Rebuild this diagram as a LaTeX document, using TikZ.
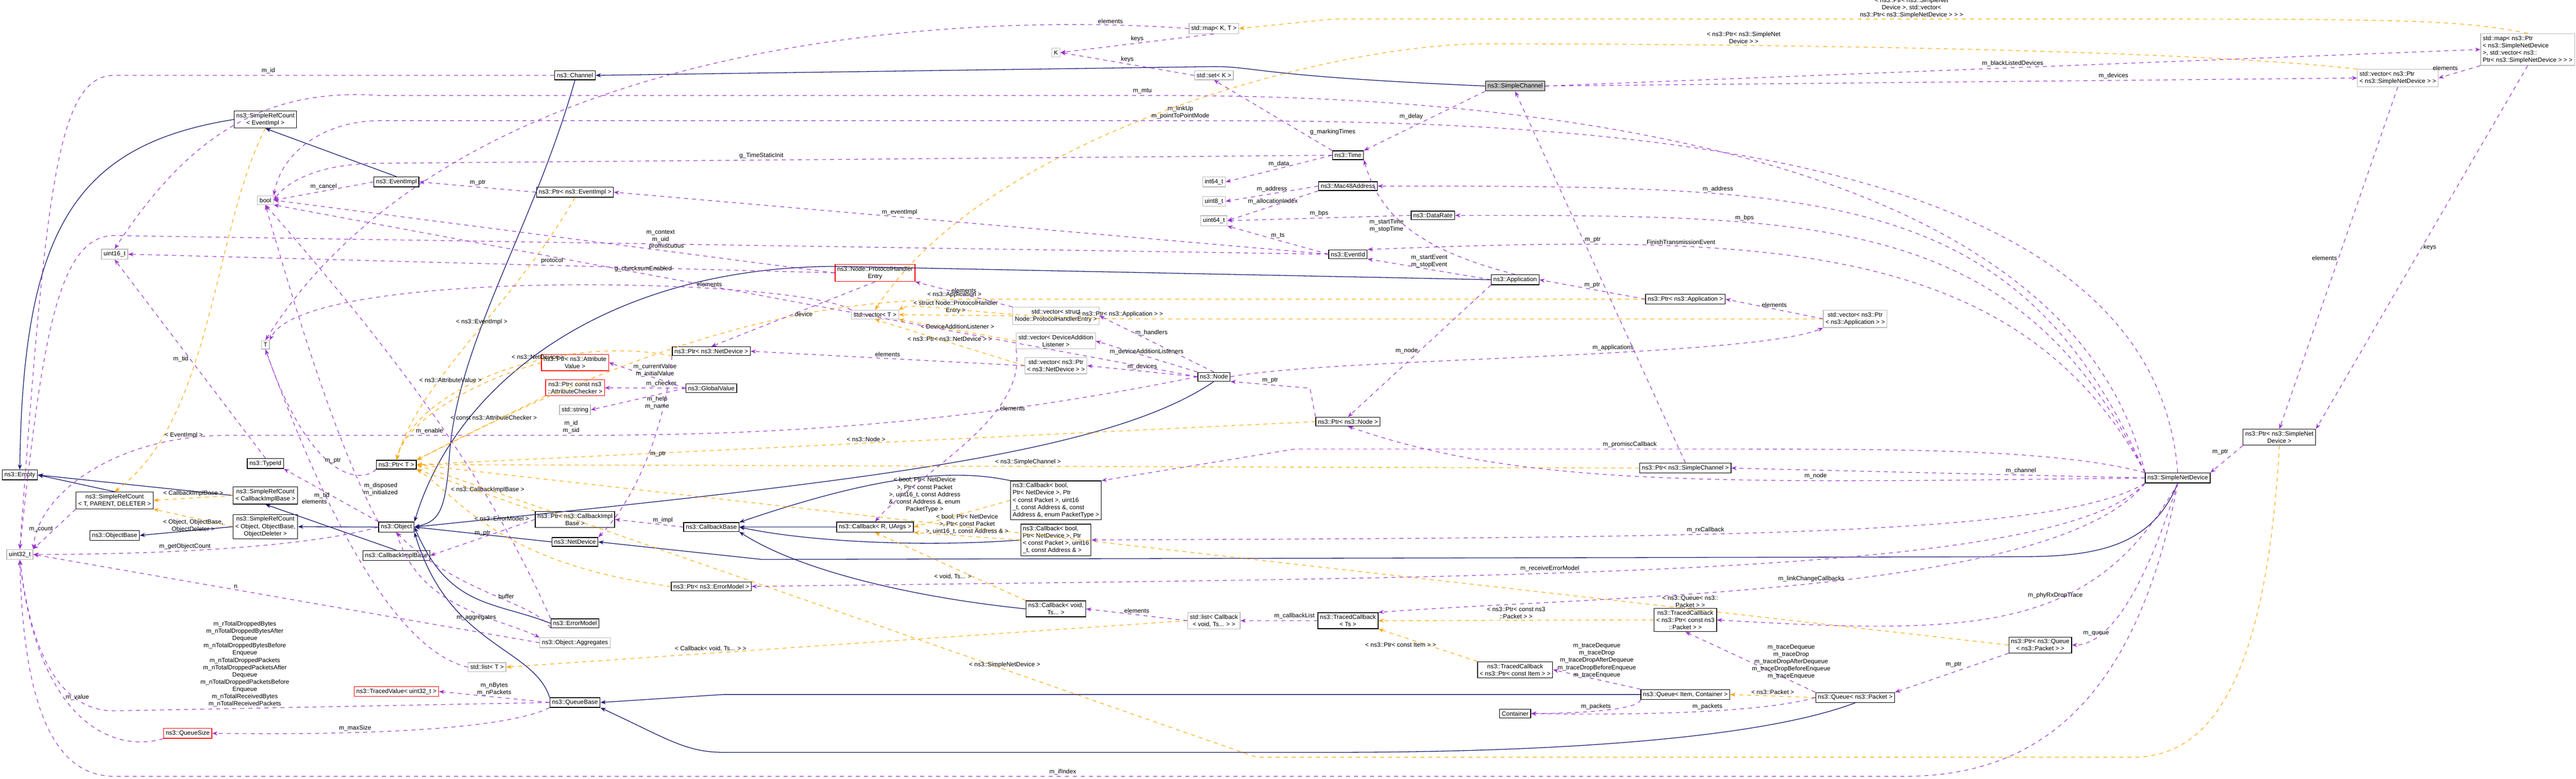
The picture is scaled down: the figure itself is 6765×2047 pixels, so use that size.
\documentclass[tikz,border=0pt]{standalone}
\usepackage{fontspec}
\setmainfont{Liberation Sans}
\usetikzlibrary{arrows.meta}
\definecolor{inhc}{HTML}{191970}
\definecolor{usec}{HTML}{9A32CD}
\definecolor{tplc}{HTML}{FFA500}
\tikzset{
 box/.style={draw=black,fill=white,font=\fontsize{4.6}{5.4}\selectfont,inner sep=1.6pt,align=center,line width=0.5pt},
 gbox/.style={box,draw=gray!55},
 rbox/.style={box,draw=red},
 inh/.style={draw=inhc,line width=0.5pt,-{Stealth[length=4pt,width=3pt]}},
 use/.style={draw=usec,dashed,line width=0.45pt,-{Stealth[length=4pt,width=3pt]}},
 tpl/.style={draw=tplc,dashed,line width=0.45pt,-{Stealth[length=4pt,width=3pt]}},
 lbl/.style={font=\fontsize{4.6}{5.4}\selectfont,align=center,inner sep=1pt}
}
\begin{document}
\begin{tikzpicture}[x=0.01cm,y=-0.01cm]
\useasboundingbox (0,0) rectangle (6765,2047);
% nodes
\node[box] (ch) at (1510,198) {ns3::Channel};
\node[box] (srcE) at (697,314) {ns3::SimpleRefCount\\< EventImpl >};
\node[box] (evi) at (1041,478) {ns3::EventImpl};
\node[gbox] (bool) at (697,526) {bool};
\node[box] (pevi) at (1510,505) {ns3::Ptr< ns3::EventImpl >};
\node[gbox] (u16) at (301,668) {uint16\_t};
\node[gbox] (T) at (697,906) {T};
\node[rbox] (pav) at (1510,953) {ns3::Ptr< ns3::Attribute\\Value >};
\node[rbox] (pcac) at (1510,1019) {ns3::Ptr< const ns3\\::AttributeChecker >};
\node[gbox] (str) at (1510,1077) {std::string};
\node[box] (tid) at (697,1218) {ns3::TypeId};
\node[box] (pT) at (1041,1221) {ns3::Ptr< T >};
\node[box] (empty) at (52,1248) {ns3::Empty};
\node[box] (srcT) at (301,1315) {ns3::SimpleRefCount\\< T, PARENT, DELETER >};
\node[box] (srcCB) at (697,1302) {ns3::SimpleRefCount\\< CallbackImplBase >};
\node[box] (srcO) at (697,1384) {ns3::SimpleRefCount\\< Object, ObjectBase,\\ObjectDeleter >};
\node[box] (obase) at (301,1407) {ns3::ObjectBase};
\node[box] (obj) at (1041,1385) {ns3::Object};
\node[box] (cib) at (1041,1460) {ns3::CallbackImplBase};
\node[box] (pcib) at (1510,1365) {ns3::Ptr< ns3::CallbackImpl\\Base >};
\node[box] (nd) at (1510,1424) {ns3::NetDevice};
\node[gbox] (u32) at (52,1457) {uint32\_t};
\node[box] (em) at (1510,1638) {ns3::ErrorModel};
\node[gbox] (agg) at (1510,1689) {ns3::Object::Aggregates};
\node[gbox] (listT) at (1279,1753) {std::list< T >};
\node[rbox] (tv) at (1041,1817) {ns3::TracedValue< uint32\_t >};
\node[box] (qb) at (1510,1846) {ns3::QueueBase};
\node[rbox] (qs) at (493,1927) {ns3::QueueSize};
\node[gbox] (mapKT) at (3188,75) {std::map< K, T >};
\node[gbox] (K) at (2773,138) {K};
\node[gbox] (setK) at (3188,198) {std::set< K >};
\node[gbox] (i64) at (3188,478) {int64\_t};
\node[gbox] (u8) at (3188,529) {uint8\_t};
\node[gbox] (u64) at (3188,580) {uint64\_t};
\node[rbox] (phe) at (2298,717) {ns3::Node::ProtocolHandler\\Entry};
\node[gbox] (vecT) at (2298,827) {std::vector< T >};
\node[gbox] (vecphe) at (2773,830) {std::vector< struct\\Node::ProtocolHandlerEntry >};
\node[gbox] (vecdal) at (2773,896) {std::vector< DeviceAddition\\Listener >};
\node[box] (pnd) at (1868,923) {ns3::Ptr< ns3::NetDevice >};
\node[gbox] (vecpnd) at (2773,961) {std::vector< ns3::Ptr\\< ns3::NetDevice > >};
\node[box] (node) at (3188,990) {ns3::Node};
\node[box] (gv) at (1868,1020) {ns3::GlobalValue};
\node[box,align=left] (cbP) at (2773,1315) {ns3::Callback< bool,\\Ptr< NetDevice >, Ptr\\< const Packet >, uint16\\\_t, const Address \&, const\\Address \&, enum PacketType >};
\node[box] (cbB) at (1868,1385) {ns3::CallbackBase};
\node[box] (cbR) at (2298,1385) {ns3::Callback< R, UArgs >};
\node[box,align=left] (cbA) at (2773,1419) {ns3::Callback< bool,\\Ptr< NetDevice >, Ptr\\< const Packet >, uint16\\\_t, const Address \& >};
\node[box] (pem) at (1868,1541) {ns3::Ptr< ns3::ErrorModel >};
\node[box] (cbV) at (2773,1600) {ns3::Callback< void,\\Ts... >};
\node[gbox] (listcb) at (3188,1631) {std::list< Callback\\< void, Ts... > >};
\node[box,fill=gray!45] (sc) at (3979,226) {ns3::SimpleChannel};
\node[box] (time) at (3540,408) {ns3::Time};
\node[box] (mac) at (3540,489) {ns3::Mac48Address};
\node[box] (dr) at (3763,566) {ns3::DataRate};
\node[box] (eid) at (3540,668) {ns3::EventId};
\node[box] (app) at (3979,735) {ns3::Application};
\node[box] (papp) at (4426,786) {ns3::Ptr< ns3::Application >};
\node[gbox] (vecapp) at (4872,838) {std::vector< ns3::Ptr\\< ns3::Application > >};
\node[box] (pnode) at (3540,1108) {ns3::Ptr< ns3::Node >};
\node[box] (psc) at (4426,1230) {ns3::Ptr< ns3::SimpleChannel >};
\node[box] (tcTs) at (3540,1631) {ns3::TracedCallback\\< Ts >};
\node[box] (tcPkt) at (4426,1629) {ns3::TracedCallback\\< ns3::Ptr< const ns3\\::Packet > >};
\node[box] (tcItem) at (3979,1760) {ns3::TracedCallback\\< ns3::Ptr< const Item > >};
\node[box] (qic) at (4426,1825) {ns3::Queue< Item, Container >};
\node[box] (cont) at (3979,1875) {Container};
\node[box] (qp) at (4872,1833) {ns3::Queue< ns3::Packet >};
\node[gbox,align=left] (mapsnd) at (6638,130) {std::map< ns3::Ptr\\< ns3::SimpleNetDevice\\ >, std::vector< ns3::\\Ptr< ns3::SimpleNetDevice > > >};
\node[gbox,align=left] (vecsnd) at (6297,205) {std::vector< ns3::Ptr\\< ns3::SimpleNetDevice > >};
\node[box] (psnd) at (5986,1149) {ns3::Ptr< ns3::SimpleNet\\Device >};
\node[box] (snd) at (5719,1256) {ns3::SimpleNetDevice};
\node[box] (pqp) at (5358,1695) {ns3::Ptr< ns3::Queue\\< ns3::Packet > >};
% inheritance
\draw[inh] (sc.west) .. controls (3300,200) and (3300,175) .. (3188,175) -- (ch.east);
\draw[inh] (ch.south) .. controls (1400,600) and (1200,900) .. (1180,1200) .. controls (1170,1350) and (1150,1370) .. (obj.east);
\draw[inh] (srcE.west) .. controls (200,380) and (60,600) .. (empty.north);
\draw[inh] (evi.north) -- (srcE.south);
\draw[inh] (srcT.north) -- (empty.east);
\draw[inh] (srcCB.west) -- (empty.east);
\draw[inh] (srcO.west) -- (obase.east);
\draw[inh] (obj.west) -- (srcO.east);
\draw[inh] (cib.north) -- (srcCB.south);
\draw[inh] (nd.west) -- (obj.east);
\draw[inh] (em.west) .. controls (1300,1580) and (1180,1600) .. (obj.east);
\draw[inh] (qb.north west) .. controls (1400,1700) and (1180,1700) .. (obj.south east);
\draw[inh] (app.west) -- (2200,700) .. controls (1600,700) and (1200,1000) .. (obj.north east);
\draw[inh] (node.south) .. controls (2900,1200) and (2200,1270) .. (obj.east);
\draw[inh] (snd.south) .. controls (5650,1440) and (5500,1463) .. (5300,1463) -- (2000,1470) -- (nd.east);
\draw[inh] (qic.west) -- (1900,1825) -- (qb.east);
\draw[inh] (qp.south) .. controls (4600,1950) and (4000,1977) .. (3500,1977) -- (1900,1977) .. controls (1800,1977) and (1750,1940) .. (qb.south east);
\draw[inh] (cbR.west) -- (cbB.east);
\draw[inh] (cbP.north west) .. controls (2500,1230) and (2300,1250) .. (cbB.north east);
\draw[inh] (cbA.west) .. controls (2400,1440) and (2100,1420) .. (cbB.east);
\draw[inh] (cbV.west) .. controls (2400,1570) and (2100,1500) .. (cbB.south east);
% template instantiation
\draw[tpl] (srcE.south) .. controls (560,600) and (560,1100) .. node[lbl,pos=0.8,right]{< EventImpl >} (srcT.north);
\draw[tpl] (srcCB.west) -- node[lbl,above]{< CallbackImplBase >} (srcT.east);
\draw[tpl] (srcO.west) -- node[lbl,below]{< Object, ObjectBase,\\ObjectDeleter >} (srcT.south east);
\draw[tpl] (pevi.south) .. controls (1350,800) and (1100,1000) .. node[lbl,pos=0.45,above]{< ns3::EventImpl >} (pT.north);
\draw[tpl] (pnd.south west) .. controls (1500,880) and (1100,1000) .. node[lbl,pos=0.4,above]{< ns3::NetDevice >} (pT.north);
\draw[tpl] (pav.west) .. controls (1250,1000) and (1070,1100) .. node[lbl,pos=0.3,above left]{< ns3::AttributeValue >} (pT.north);
\draw[tpl] (pcac.south west) -- node[lbl,pos=0.4,above]{< const ns3::AttributeChecker >} (pT.north east);
\draw[tpl] (pcib.north west) -- node[lbl,pos=0.4,above]{< ns3::CallbackImplBase >} (pT.south east);
\draw[tpl] (pem.west) .. controls (1300,1480) and (1200,1300) .. node[lbl,pos=0.6,below right]{< ns3::ErrorModel >} (pT.south east);
\draw[tpl] (pnode.west) -- node[lbl,pos=0.5,above]{< ns3::Node >} (pT.east);
\draw[tpl] (psc.west) -- node[lbl,pos=0.5,above]{< ns3::SimpleChannel >} (pT.east);
\draw[tpl] (papp.west) -- (2600,786) .. controls (2300,786) and (1900,790) .. node[lbl,pos=0.1,above]{< ns3::Application >} (pT.north east);
\draw[tpl] (pqp.west) -- node[lbl,pos=0.2,above]{< ns3::Queue< ns3::\\Packet > >} (pT.east);
\draw[tpl] (psnd.south) .. controls (5950,1800) and (5800,1990) .. (5600,1990) -- (3300,1990) -- node[lbl,pos=0.3,above]{< ns3::SimpleNetDevice >} (pT.east);
\draw[tpl] (listcb.west) -- node[lbl,pos=0.7,above]{< Callback< void, Ts... > >} (listT.east);
\draw[tpl] (vecphe.west) -- node[lbl,above]{< struct Node::ProtocolHandler\\Entry >} (vecT.east);
\draw[tpl] (vecdal.west) -- node[lbl,pos=0.5,above]{< DeviceAdditionListener >} (vecT.south east);
\draw[tpl] (vecpnd.west) -- node[lbl,pos=0.5,above]{< ns3::Ptr< ns3::NetDevice > >} (vecT.south);
\draw[tpl] (vecapp.west) -- (3000,838) .. controls (2600,838) and (2400,790) .. node[lbl,pos=0.05,above]{< ns3::Ptr< ns3::Application > >} (vecT.north east);
\draw[tpl] (vecsnd.north west) .. controls (5600,115) and (4000,115) .. node[lbl,pos=0.6,above]{< ns3::Ptr< ns3::SimpleNet\\Device > >} (3900,115) .. controls (3500,115) and (2600,350) .. (vecT.north);
\draw[tpl] (mapsnd.north) .. controls (6450,50) and (6300,50) .. (5400,50) -- node[lbl,pos=0.2,above,inner sep=0.5pt]{< ns3::Ptr< ns3::SimpleNet\\Device >, std::vector<\\ns3::Ptr< ns3::SimpleNetDevice > > >} (3500,50) -- (mapKT.east);
\draw[tpl] (cbP.west) -- node[lbl,above left]{< bool, Ptr< NetDevice\\>, Ptr< const Packet\\>, uint16\_t, const Address\\\&, const Address \&, enum\\PacketType >} (cbR.east);
\draw[tpl] (cbA.west) -- node[lbl,above]{< bool, Ptr< NetDevice\\>, Ptr< const Packet\\>, uint16\_t, const Address \& >} (cbR.south east);
\draw[tpl] (cbV.north west) -- node[lbl,pos=0.35,left]{< void, Ts... >} (cbR.south);
\draw[tpl] (qp.west) -- node[lbl,above]{< ns3::Packet >} (qic.east);
\draw[tpl] (tcPkt.west) -- node[lbl,above]{< ns3::Ptr< const ns3\\::Packet > >} (tcTs.east);
\draw[tpl] (tcItem.north west) -- node[lbl,pos=0.4,above left]{< ns3::Ptr< const Item > >} (tcTs.south east);
% usage
\draw[use] (ch.west) -- node[lbl,pos=0.65,above]{m\_id} (300,198) .. controls (150,198) and (120,500) .. (u32.north);
\draw[use] (snd.north west) .. controls (5400,251) and (3500,251) .. (3000,251) -- node[lbl,pos=0,above]{m\_mtu} (1000,251) .. controls (700,230) and (500,350) .. (u16.north);
\draw[use] (snd.north) .. controls (5650,330) and (4000,317) .. (3100,317) -- node[lbl,pos=0,above]{m\_linkUp\\m\_pointToPointMode} (1000,317) .. controls (850,317) and (740,400) .. (bool.north east);
\draw[use] (time.west) -- node[lbl,pos=0.6,above]{g\_TimeStaticInit} (1000,429) .. controls (850,429) and (760,470) .. (bool.east);
\draw[use] (evi.west) -- node[lbl,above]{m\_cancel} (bool.east);
\draw[use] (pevi.west) -- node[lbl,above]{m\_ptr} (evi.east);
\draw[use] (phe.west) -- node[lbl,pos=0.3,above]{promiscuous} (bool.east);
\draw[use] (eid.west) -- node[lbl,pos=0.55,above]{m\_context\\m\_uid} (300,619) .. controls (150,619) and (110,900) .. (u32.north);
\draw[use] (phe.west) -- node[lbl,pos=0.4,above]{protocol} (u16.east);
\draw[use] (mapKT.west) .. controls (2500,30) and (1200,100) .. node[lbl,pos=0.1,above]{elements} (T.north);
\draw[use] (vecT.north west) .. controls (2100,730) and (800,700) .. node[lbl,pos=0.3,above]{elements} (T.north east);
\draw[use] (tid.north) -- node[lbl,left]{m\_tid} (u16.south);
\draw[use] (gv.west) -- node[lbl,pos=0.7,right]{m\_currentValue\\m\_initialValue} (pav.east);
\draw[use] (gv.west) -- node[lbl,pos=0.3,above]{m\_checker} (pcac.east);
\draw[use] (gv.west) -- node[lbl,pos=0.3,below]{m\_help\\m\_name} (str.east);
\draw[use] (node.west) .. controls (2500,1120) and (2000,1144) .. (1500,1144) -- node[lbl,pos=0,above]{m\_id\\m\_sid} (600,1144) .. controls (300,1144) and (100,1300) .. (u32.north east);
\draw[use] (obj.north west) .. controls (900,1200) and (800,900) .. node[lbl,pos=0.15,right]{m\_disposed\\m\_initialized} (bool.south);
\draw[use] (pT.south west) .. controls (950,1270) and (820,1270) .. node[lbl,pos=0.5,above]{m\_ptr} (T.south);
\draw[use] (em.north west) .. controls (1300,1300) and (1100,1000) .. node[lbl,pos=0.5,left]{m\_enable} (bool.south);
\draw[use] (obj.north west) -- node[lbl,pos=0.5,left]{m\_tid} (tid.south east);
\draw[use] (listT.west) .. controls (1000,1700) and (800,1200) .. node[lbl,pos=0.6,left]{elements} (T.south);
\draw[use] (srcT.south west) -- node[lbl,left]{m\_count} (u32.north east);
\draw[use] (pcib.west) -- node[lbl,above]{m\_ptr} (cib.east);
\draw[use] (obj.west) .. controls (800,1440) and (400,1457) .. node[lbl,pos=0.6,above]{m\_getObjectCount} (u32.east);
\draw[use] (agg.west) -- node[lbl,pos=0.6,above]{n} (u32.east);
\draw[use] (obj.south) .. controls (1100,1600) and (1300,1620) .. node[lbl,pos=0.6,below]{m\_aggregates} (agg.north west);
\draw[use] (em.south west) .. controls (1400,1580) and (1200,1560) .. node[lbl,pos=0.4,above]{buffer} (obj.south);
\draw[use] (qb.west) -- node[lbl,above]{m\_nBytes\\m\_nPackets} (tv.east);
\draw[use] (qb.west) -- node[lbl,pos=0.7,above]{m\_rTotalDroppedBytes\\m\_nTotalDroppedBytesAfter\\Dequeue\\m\_nTotalDroppedBytesBefore\\Enqueue\\m\_nTotalDroppedPackets\\m\_nTotalDroppedPacketsAfter\\Dequeue\\m\_nTotalDroppedPacketsBefore\\Enqueue\\m\_nTotalReceivedBytes\\m\_nTotalReceivedPackets} (300,1868) .. controls (150,1868) and (80,1700) .. (u32.south);
\draw[use] (qb.south west) .. controls (1300,1930) and (800,1930) .. node[lbl,pos=0.6,above]{m\_maxSize} (qs.east);
\draw[use] (qs.south west) .. controls (300,1980) and (100,1900) .. node[lbl,pos=0.6,right]{m\_value} (u32.south);
\draw[use] (snd.south) .. controls (5600,1900) and (5300,2040) .. (5000,2040) -- node[lbl,pos=0.47,above]{m\_ifIndex} (300,2040) .. controls (120,2040) and (60,1800) .. (u32.south);
\draw[use] (mapKT.south) -- node[lbl,above]{keys} (K.east);
\draw[use] (setK.west) -- node[lbl,above]{keys} (K.east);
\draw[use] (time.north west) -- node[lbl,pos=0.2,above right]{g\_markingTimes} (setK.south);
\draw[use] (sc.south west) -- node[lbl,above left]{m\_delay} (time.north east);
\draw[use] (sc.east) -- node[lbl,above]{m\_blackListedDevices} (mapsnd.west);
\draw[use] (sc.east) -- node[lbl,pos=0.7,above]{m\_devices} (vecsnd.west);
\draw[use] (psc.north) -- node[lbl,pos=0.6,right]{m\_ptr} (sc.south);
\draw[use] (app.north) .. controls (3700,650) and (3620,550) .. node[lbl,pos=0.5,left]{m\_startTime\\m\_stopTime} (time.south east);
\draw[use] (app.west) -- node[lbl,above]{m\_startEvent\\m\_stopEvent} (eid.south east);
\draw[use] (app.south west) -- node[lbl,pos=0.5,left]{m\_node} (pnode.north);
\draw[use] (papp.west) -- node[lbl,above]{m\_ptr} (app.east);
\draw[use] (vecapp.west) -- node[lbl,above]{elements} (papp.east);
\draw[use] (node.east) .. controls (3500,940) and (4600,940) .. node[lbl,pos=0.6,above]{m\_applications} (vecapp.south west);
\draw[use] (node.north) -- node[lbl,pos=0.7,right]{m\_handlers} (vecphe.east);
\draw[use] (node.north west) -- node[lbl,pos=0.5,above]{m\_deviceAdditionListeners} (vecdal.east);
\draw[use] (node.west) -- node[lbl,above]{m\_devices} (vecpnd.east);
\draw[use] (node.west) -- node[lbl,pos=0.6,above]{g\_checksumEnabled} (bool.south east);
\draw[use] (vecphe.north west) -- node[lbl,pos=0.5,above]{elements} (phe.south east);
\draw[use] (vecpnd.west) -- node[lbl,pos=0.5,above]{elements} (pnd.east);
\draw[use] (phe.south) -- node[lbl,pos=0.5,right]{device} (pnd.north);
\draw[use] (vecdal.south west) .. controls (2700,1100) and (2400,1250) .. node[lbl,pos=0.3,right]{elements} (cbR.north);
\draw[use] (pnd.south west) .. controls (1750,1100) and (1680,1300) .. node[lbl,pos=0.5,right]{m\_ptr} (nd.north east);
\draw[use] (pnode.north west) -- (3440,1020) -- node[lbl,pos=0.5,above]{m\_ptr} (node.south east);
\draw[use] (snd.west) .. controls (4500,1270) and (4000,1280) .. node[lbl,pos=0.3,above]{m\_node} (pnode.south);
\draw[use] (snd.west) -- node[lbl,pos=0.3,above]{m\_channel} (psc.east);
\draw[use] (snd.north west) .. controls (5400,1180) and (5000,1180) .. (4500,1180) -- node[lbl,pos=0.2,above]{m\_promiscCallback} (3400,1180) -- (cbP.north east);
\draw[use] (snd.south west) .. controls (5400,1410) and (4500,1412) .. node[lbl,pos=0.6,above]{m\_rxCallback} (cbA.east);
\draw[use] (snd.south west) .. controls (5400,1520) and (4000,1515) .. node[lbl,pos=0.6,above]{m\_receiveErrorModel} (pem.east);
\draw[use] (snd.south west) .. controls (5400,1565) and (4200,1565) .. node[lbl,pos=0.5,above]{m\_linkChangeCallbacks} (tcTs.north east);
\draw[use] (snd.south) .. controls (5500,1660) and (5200,1670) .. node[lbl,pos=0.4,above]{m\_phyRxDropTrace} (tcPkt.east);
\draw[use] (snd.south) .. controls (5600,1650) and (5500,1695) .. node[lbl,pos=0.7,above]{m\_queue} (pqp.east);
\draw[use] (snd.north west) .. controls (5300,489) and (4800,489) .. node[lbl,pos=0.7,above]{m\_address} (mac.east);
\draw[use] (snd.north west) .. controls (5300,566) and (4800,566) .. node[lbl,pos=0.7,above]{m\_bps} (dr.east);
\draw[use] (snd.north west) .. controls (5300,617) and (4600,617) .. node[lbl,pos=0.7,above]{FinishTransmissionEvent} (eid.north east);
\draw[use] (psnd.south west) -- node[lbl,pos=0.4,above left]{m\_ptr} (snd.north east);
\draw[use] (vecsnd.south) -- node[lbl,pos=0.5,left]{elements} (psnd.north);
\draw[use] (mapsnd.south) -- node[lbl,pos=0.5,right]{keys} (psnd.north east);
\draw[use] (mapsnd.south west) -- node[lbl,pos=0.5,above left]{elements} (vecsnd.east);
\draw[use] (pqp.south west) -- node[lbl,pos=0.4,above left]{m\_ptr} (qp.north east);
\draw[use] (qp.north west) -- node[lbl,pos=0.5,right]{m\_traceDequeue\\m\_traceDrop\\m\_traceDropAfterDequeue\\m\_traceDropBeforeEnqueue\\m\_traceEnqueue} (tcPkt.south);
\draw[use] (qp.west) .. controls (4600,1880) and (4200,1878) .. node[lbl,pos=0.4,above]{m\_packets} (cont.east);
\draw[use] (qic.south west) .. controls (4300,1870) and (4100,1875) .. node[lbl,pos=0.5,above]{m\_packets} (cont.east);
\draw[use] (qic.north west) -- node[lbl,pos=0.5,above]{m\_traceDequeue\\m\_traceDrop\\m\_traceDropAfterDequeue\\m\_traceDropBeforeEnqueue\\m\_traceEnqueue} (tcItem.east);
\draw[use] (tcTs.west) -- node[lbl,pos=0.3,above]{m\_callbackList} (listcb.east);
\draw[use] (listcb.west) -- node[lbl,pos=0.5,above]{elements} (cbV.east);
\draw[use] (cbB.west) -- node[lbl,pos=0.3,above]{m\_impl} (pcib.east);
\draw[use] (dr.west) -- node[lbl,pos=0.5,above]{m\_bps} (u64.east);
\draw[use] (time.west) -- node[lbl,pos=0.5,above]{m\_data} (i64.east);
\draw[use] (mac.west) -- node[lbl,pos=0.5,above]{m\_address} (u8.east);
\draw[use] (mac.south west) -- node[lbl,pos=0.5,above]{m\_allocationIndex} (u64.east);
\draw[use] (eid.west) -- node[lbl,pos=0.5,above]{m\_ts} (u64.south east);
\draw[use] (eid.west) -- node[lbl,pos=0.6,above]{m\_eventImpl} (pevi.east);
\end{tikzpicture}
\end{document}
